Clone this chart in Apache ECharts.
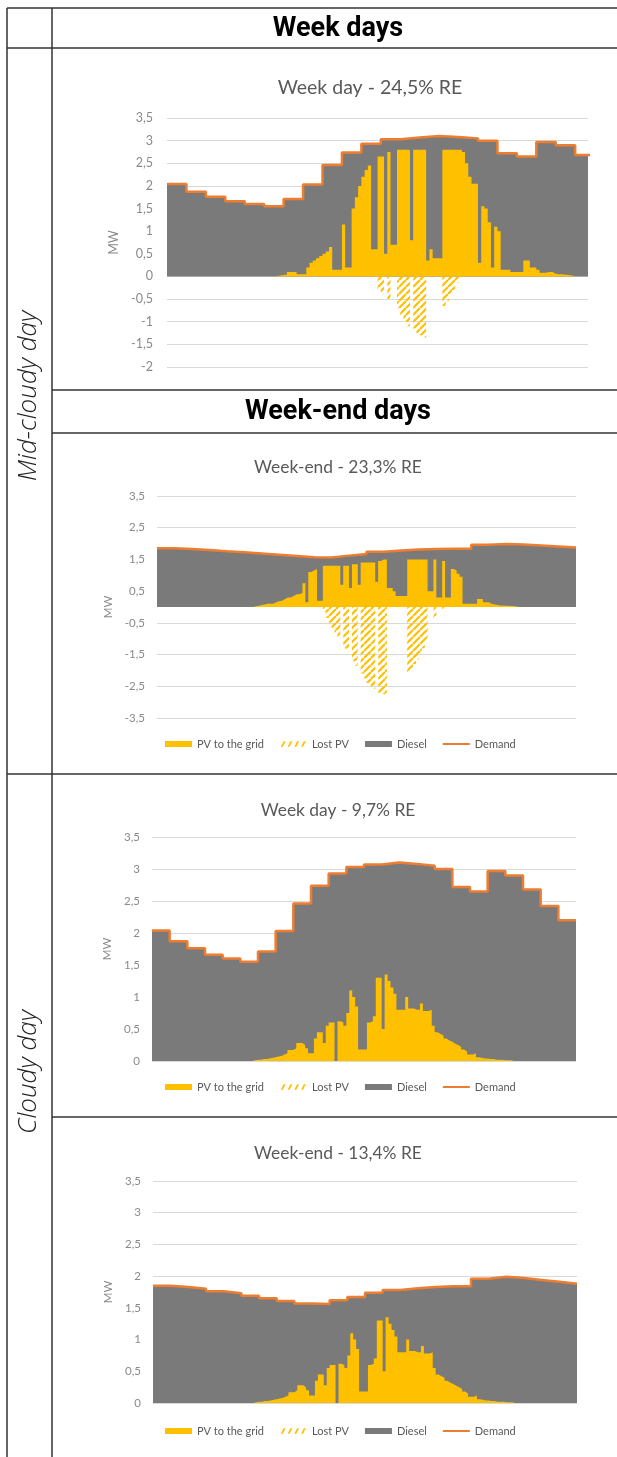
<!DOCTYPE html>
<html><head><meta charset="utf-8">
<script src="https://cdn.jsdelivr.net/npm/echarts@6/dist/echarts.min.js"></script>
<style>html,body{margin:0;padding:0;background:#fff}#c{width:617px;height:1457px}</style>
</head><body><div id="c"></div>
<script>
// ================= DATA =================
const seriesNames = ['PV to the grid', 'Lost PV', 'Diesel', 'Demand'];
const colHeaders = ['Week days', 'Week-end days'];
const rowLabels = ['Mid-cloudy day', 'Cloudy day'];
const chartTitles = ['Week day - 24,5% RE', 'Week-end - 23,3% RE', 'Week day - 9,7% RE', 'Week-end - 13,4% RE'];

// y tick values per chart (MW)
const yTicks1 = [-2, -1.5, -1, -0.5, 0, 0.5, 1, 1.5, 2, 2.5, 3, 3.5];
const yTicks2 = [-3.5, -2.5, -1.5, -0.5, 0.5, 1.5, 2.5, 3.5];
const yTicks3 = [0, 0.5, 1, 1.5, 2, 2.5, 3, 3.5];
const yTicks4 = [0, 0.5, 1, 1.5, 2, 2.5, 3, 3.5];

// hourly demand (MW), hour 0..23
const demandWeekday = [2.04, 1.87, 1.76, 1.66, 1.60, 1.55, 1.71, 2.03, 2.46, 2.74, 2.93, 3.03, 3.07, 3.10, 3.08, 3.05, 3.00, 2.72, 2.65, 2.97, 2.90, 2.68, 2.42, 2.20];
const demandWeekend = [1.85, 1.83, 1.80, 1.76, 1.73, 1.69, 1.65, 1.61, 1.57, 1.56, 1.62, 1.67, 1.74, 1.78, 1.81, 1.83, 1.84, 1.84, 1.96, 1.99, 1.97, 1.94, 1.91, 1.88];

// PV to the grid, 10-minute values from 05:00 to 21:00
const pvMidWeekday = [
  0, 0, 0, 0.01, 0.02, 0.03,
  0.04, 0.1, 0.1, 0.1, 0.05, 0.05,
  0.05, 0.2, 0.3, 0.35, 0.4, 0.45,
  0.5, 0.55, 0.65, 0.15, 0.15, 0.15,
  1.15, 0.2, 0.2, 1.5, 1.75, 2.0,
  2.2, 2.35, 2.45, 0.6, 0.6, 2.65,
  2.65, 0.5, 2.75, 0.7, 0.7, 2.8,
  2.8, 2.8, 2.8, 0.8, 2.8, 2.8,
  2.8, 2.8, 0.35, 0.6, 0.4, 0.4,
  0.4, 2.8, 2.8, 2.8, 2.8, 2.8,
  2.8, 2.75, 2.5, 2.2, 2.05, 2.05,
  0.3, 1.55, 1.5, 1.2, 0.2, 1.1,
  1.0, 0.15, 0.15, 0.15, 0.1, 0.1,
  0.1, 0.1, 0.35, 0.35, 0.2, 0.2,
  0.15, 0.08, 0.08, 0.1, 0.1, 0.06,
  0.05, 0.05, 0.04, 0.03, 0.02, 0.01,
  0
];
const pvMidWeekend = [
  0, 0, 0, 0.02, 0.04, 0.06,
  0.08, 0.1, 0.1, 0.1, 0.15, 0.18,
  0.2, 0.25, 0.3, 0.3, 0.35, 0.4,
  0.4, 0.45, 0.75, 0.15, 1.1, 1.15,
  1.2, 0.2, 0.2, 1.3, 1.3, 1.3,
  1.3, 1.3, 1.3, 0.7, 1.3, 1.3,
  0.6, 1.35, 1.35, 0.7, 1.4, 1.4,
  1.4, 1.4, 1.4, 0.8, 1.45, 1.5,
  1.5, 0.6, 0.6, 0.5, 0.35, 0.35,
  0.35, 0.35, 1.5, 1.5, 1.5, 1.5,
  1.5, 1.5, 1.5, 0.5, 0.5, 1.5,
  0.3, 0.3, 1.45, 0.3, 0.3, 1.2,
  1.15, 1.05, 0.95, 0.1, 0.1, 0.1,
  0.1, 0.1, 0.25, 0.25, 0.15, 0.15,
  0.1, 0.08, 0.06, 0.05, 0.05, 0.04,
  0.04, 0.03, 0.02, 0.01, 0, 0,
  0
];
const pvCloudy = [
  0, 0, 0, 0, 0.01, 0.02,
  0.02, 0.03, 0.03, 0.04, 0.05, 0.06,
  0.07, 0.08, 0.1, 0.12, 0.17, 0.17,
  0.2, 0.28, 0.28, 0.25, 0.2, 0.12,
  0.12, 0.35, 0.45, 0.45, 0.28, 0.55,
  0.6, 0.6, 0, 0.62, 0.6, 0.55,
  0.75, 1.1, 1.0, 0.85, 0.18, 0.18,
  0.18, 0.6, 0.62, 0.7, 1.3, 1.3,
  0.5, 1.35, 1.25, 1.15, 1.05, 0.8,
  0.8, 0.8, 1.0, 0.82, 0.82, 0.8,
  0.8, 0.9, 0.78, 0.78, 0.8, 0.55,
  0.45, 0.42, 0.4, 0.35, 0.32, 0.3,
  0.27, 0.25, 0.22, 0.18, 0.15, 0.1,
  0.1, 0.12, 0.06, 0.05, 0.04, 0.04,
  0.03, 0.03, 0.02, 0.02, 0.02, 0.01,
  0.01, 0.01, 0, 0, 0, 0,
  0
];
// Lost PV (negative), 10-minute values
const lostMidWeekday = [ // from 10:00
  0, 0, 0, 0, 0, -0.3,
  -0.4, 0, -0.5, 0, 0, -0.7,
  -0.85, -1.0, -1.1, 0, -1.15, -1.25,
  -1.3, -1.35, 0, 0, 0, 0,
  0, -0.65, -0.55, -0.42, -0.3, -0.15,
  -0.05, 0
];
const lostMidWeekend = [ // from 09:00
  0, 0, 0, -0.15, -0.35, -0.5,
  -0.67, -0.85, -1.0, 0, -1.3, -1.4,
  0, -1.7, -1.85, 0, -2.1, -2.25,
  -2.4, -2.5, -2.58, 0, -2.7, -2.75,
  -2.78, 0, 0, 0, 0, 0,
  0, 0, -2.05, -1.95, -1.8, -1.65,
  -1.5, -1.3, -1.1, 0, 0, -0.4,
  0, 0, -0.1, 0, 0, 0
];
const pvStartHour = 5;
const lostStartHour1 = 10;
const lostStartHour2 = 9;
const stepHours = 1 / 6;

// ================= STYLE / LAYOUT =================
const C_PV = '#FFC000', C_DIESEL = '#7A7A7A', C_DEMAND = '#ED7D31', C_TXT = '#595959';
const FONT = 'Lato, "Liberation Sans", sans-serif';

function hatchCanvas() {
  const p = 7, c = document.createElement('canvas');
  c.width = p; c.height = p;
  const g = c.getContext('2d');
  g.strokeStyle = C_PV; g.lineWidth = 2.2;
  g.beginPath();
  for (let k = -1; k <= 1; k++) { g.moveTo(k * p, p); g.lineTo(k * p + p, 0); }
  g.stroke();
  return c;
}
const HATCH = { image: hatchCanvas(), repeat: 'repeat' };
const ICON_LINE = 'path://M0,0 L0.01,0 L0,0.01 Z M0,1.8 L30,1.8 L30,4.2 L0,4.2 Z M30,6 L29.99,6 L30,5.99 Z';
const ICON_HATCH = 'path://M0,0 L0.01,0 L0,0.01 Z M1,6 L4,0 L6.2,0 L3.2,6 Z M8.5,6 L11.5,0 L13.7,0 L10.7,6 Z M16,6 L19,0 L21.2,0 L18.2,6 Z M23.5,6 L26.5,0 L28.7,0 L25.7,6 Z M30,6 L29.99,6 L30,5.99 Z';

const charts = [
  { grid: { left: 167, top: 118, width: 421, height: 249 }, xMax: 21.66, ticks: yTicks1, demand: demandWeekday, pv: pvMidWeekday, lost: lostMidWeekday, lostStart: lostStartHour1,
    title: { x: 370, y: 88, size: 19.5 }, labelSize: 12.5, labelMargin: 14, nameGap: 42, legendTop: null },
  { grid: { left: 157, top: 496, width: 419, height: 222 }, xMax: 24, ticks: yTicks2, demand: demandWeekend, pv: pvMidWeekend, lost: lostMidWeekend, lostStart: lostStartHour2,
    title: { x: 338, y: 467, size: 17.4 }, labelSize: 11.5, labelMargin: 12, nameGap: 37, legendTop: 738.5 },
  { grid: { left: 152, top: 837, width: 424, height: 224 }, xMax: 24, ticks: yTicks3, demand: demandWeekday, pv: pvCloudy, lost: null,
    title: { x: 338, y: 810, size: 17.4 }, labelSize: 11.5, labelMargin: 12, nameGap: 32, legendTop: 1081.5 },
  { grid: { left: 153, top: 1181, width: 424, height: 222 }, xMax: 24, ticks: yTicks4, demand: demandWeekend, pv: pvCloudy, lost: null,
    title: { x: 338, y: 1153, size: 17.4 }, labelSize: 11.5, labelMargin: 12, nameGap: 33, legendTop: 1425.5 }
];

function hourlySteps(arr) { const pts = arr.map((v, h) => [h, v]); pts.push([arr.length, arr[arr.length - 1]]); return pts; }
function tenMinSteps(start, arr) { return arr.map((v, i) => [start + i * stepHours, v]); }

const grids = [], xAxes = [], yAxes = [], series = [], legends = [], graphics = [];

charts.forEach((ch, k) => {
  grids.push(Object.assign({}, ch.grid));
  xAxes.push({ type: 'value', gridIndex: k, min: 0, max: ch.xMax, show: false });
  const t = ch.ticks;
  yAxes.push({
    type: 'value', gridIndex: k, min: t[0], max: t[t.length - 1], interval: t[1] - t[0],
    axisLine: { show: false }, axisTick: { show: false },
    splitLine: { lineStyle: { color: '#D9D9D9', width: 1 } },
    axisLabel: { color: '#8A8A8A', fontSize: ch.labelSize, fontFamily: FONT, margin: ch.labelMargin,
      formatter: v => String(Math.round(v * 10) / 10).replace('.', ',') },
    name: 'MW', nameLocation: 'middle', nameRotate: 90, nameGap: ch.nameGap,
    nameTextStyle: { color: '#8A8A8A', fontSize: ch.labelSize, fontFamily: FONT }
  });
  series.push({ name: 'Diesel', type: 'line', xAxisIndex: k, yAxisIndex: k, step: 'end', symbol: 'none',
    color: C_DIESEL, lineStyle: { width: 0 }, areaStyle: { color: C_DIESEL, opacity: 1 }, data: hourlySteps(ch.demand), z: 1 });
  series.push({ name: 'PV to the grid', type: 'line', xAxisIndex: k, yAxisIndex: k, step: 'end', symbol: 'none',
    color: C_PV, lineStyle: { width: 0 }, areaStyle: { color: C_PV, opacity: 1 }, data: tenMinSteps(pvStartHour, ch.pv), z: 2 });
  if (ch.lost) {
    series.push({ name: 'Lost PV', type: 'line', xAxisIndex: k, yAxisIndex: k, step: 'end', symbol: 'none',
      color: C_PV, lineStyle: { width: 0 }, areaStyle: { color: HATCH, opacity: 1 }, data: tenMinSteps(ch.lostStart, ch.lost), z: 2 });
  }
  series.push({ name: 'Demand', type: 'line', xAxisIndex: k, yAxisIndex: k, step: 'end', symbol: 'none',
    color: C_DEMAND, lineStyle: { color: C_DEMAND, width: 2.5 }, data: hourlySteps(ch.demand), z: 3 });

  if (ch.legendTop !== null) {
    legends.push({
      top: ch.legendTop, left: 165, padding: 0, itemWidth: 27, itemHeight: 6, itemGap: 16, selectedMode: false,
      textStyle: { color: C_TXT, fontSize: 11, fontFamily: FONT },
      data: [
        { name: seriesNames[0], icon: 'rect', itemStyle: { color: C_PV, borderWidth: 0 } },
        { name: seriesNames[1], icon: ICON_HATCH, itemStyle: { color: C_PV, borderWidth: 0 } },
        { name: seriesNames[2], icon: 'rect', itemStyle: { color: C_DIESEL, borderWidth: 0 } },
        { name: seriesNames[3], icon: ICON_LINE, itemStyle: { color: C_DEMAND, borderWidth: 0 } }
      ]
    });
  }
  graphics.push({ type: 'text', x: ch.title.x, y: ch.title.y, z: 10,
    style: { text: chartTitles[k], fill: C_TXT, font: ch.title.size + 'px ' + FONT, align: 'center', verticalAlign: 'middle' } });
});

// table rules
const LINE = { stroke: '#333333', lineWidth: 1.5 };
const rules = [
  [7, 8, 617, 8], [7, 48, 617, 48], [52, 390, 617, 390], [52, 433, 617, 433],
  [7, 774, 617, 774], [52, 1117, 617, 1117],
  [7, 8, 7, 1457], [52, 8, 52, 1457]
];
rules.forEach(r => graphics.push({ type: 'line', z: 20, shape: { x1: r[0], y1: r[1], x2: r[2], y2: r[3] }, style: LINE }));
const HEAD_FONT = 'bold 27px Roboto';
const ROW_FONT = 'italic 300 26px "Open Sans"';
graphics.push({ type: 'text', x: 338, y: 29, z: 20, style: { text: colHeaders[0], fill: '#000', font: HEAD_FONT, align: 'center', verticalAlign: 'middle' } });
graphics.push({ type: 'text', x: 338, y: 412, z: 20, style: { text: colHeaders[1], fill: '#000', font: HEAD_FONT, align: 'center', verticalAlign: 'middle' } });
graphics.push({ type: 'text', x: 29, y: 396, rotation: Math.PI / 2, z: 20, style: { text: rowLabels[0], fill: '#222', font: ROW_FONT, align: 'center', verticalAlign: 'middle' } });
graphics.push({ type: 'text', x: 29, y: 1072, rotation: Math.PI / 2, z: 20, style: { text: rowLabels[1], fill: '#222', font: ROW_FONT, align: 'center', verticalAlign: 'middle' } });

const chart = echarts.init(document.getElementById('c'), null, { renderer: 'canvas' });
chart.setOption({
  animation: false,
  backgroundColor: '#fff',
  grid: grids, xAxis: xAxes, yAxis: yAxes, legend: legends, series: series, graphic: graphics
});
</script></body></html>
